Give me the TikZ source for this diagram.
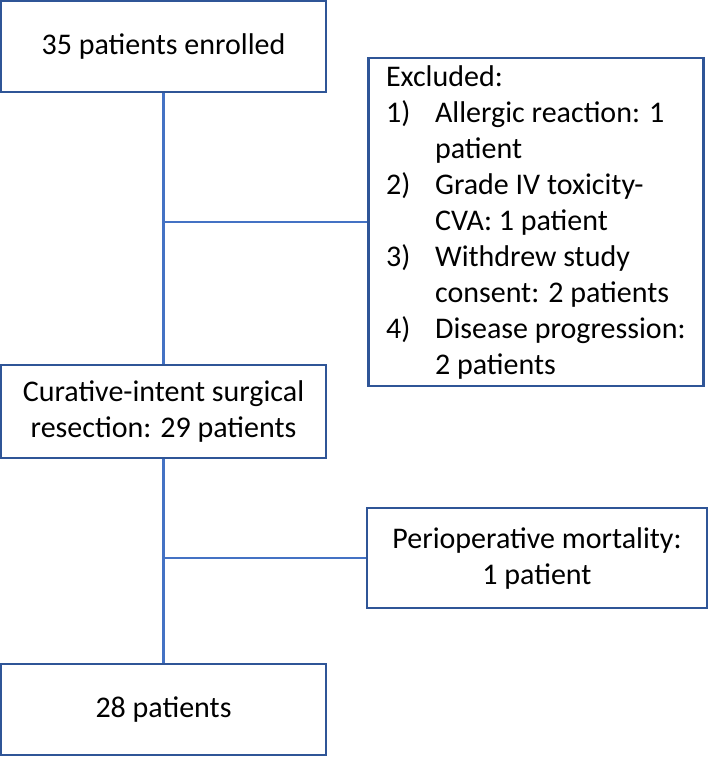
\documentclass[tikz,border=0pt]{standalone}
\usepackage{fontspec}
\setmainfont{Carlito}
\usepackage{tikz}
\usetikzlibrary{calc}
\usetikzlibrary{positioning}
\usepackage{xcolor}
\definecolor{boxblue}{RGB}{47,85,151}
\definecolor{lineblue}{RGB}{68,114,196}
\newcommand{\lab}[1]{\makebox[49pt][l]{#1}}
\newcommand{\gap}{\hspace*{49pt}}

\begin{document}
\begin{tikzpicture}[x=1pt,y=-1pt,
        font=\fontsize{30}{36}\selectfont,
        flowbox/.style={draw=boxblue,line width=2.6pt,fill=white,inner sep=0pt,align=center},
        link/.style={draw=lineblue,line width=2.6pt}]
        \useasboundingbox (0,0) rectangle (709,757);
        \node[flowbox,minimum width=325pt,minimum height=91pt] (enrolled) at (163.5,46.5) {35 patients enrolled};
        \node[flowbox,minimum width=335pt,minimum height=328pt,align=left,inner xsep=15pt,anchor=west] (excluded) at (367,222) {%
          Excluded:\\
          \lab{1)}Allergic reaction: 1\\
          \gap patient\\
          \lab{2)}Grade IV toxicity-\\
          \gap CVA: 1 patient\\
          \lab{3)}Withdrew study\\
          \gap consent: 2 patients\\
          \lab{4)}Disease progression:\\
          \gap 2 patients};
        \node[flowbox,minimum width=325pt,minimum height=93pt] (resection) at (163.5,411.5) {Curative-intent surgical\\resection: 29 patients};
        \node[flowbox,minimum width=340pt,minimum height=100pt] (mortality) at (537,558) {Perioperative mortality:\\1 patient};
        \node[flowbox,minimum width=325pt,minimum height=91pt] (final) at (163.5,709.5) {28 patients};
        % connectors
        \draw[link] (enrolled) -- (resection);
        \draw[link] (enrolled |- excluded.west) -- (excluded.west);
        \draw[link] (resection) -- (final);
        \draw[link] (resection |- mortality.west) -- (mortality.west);
\end{tikzpicture}
\end{document}
